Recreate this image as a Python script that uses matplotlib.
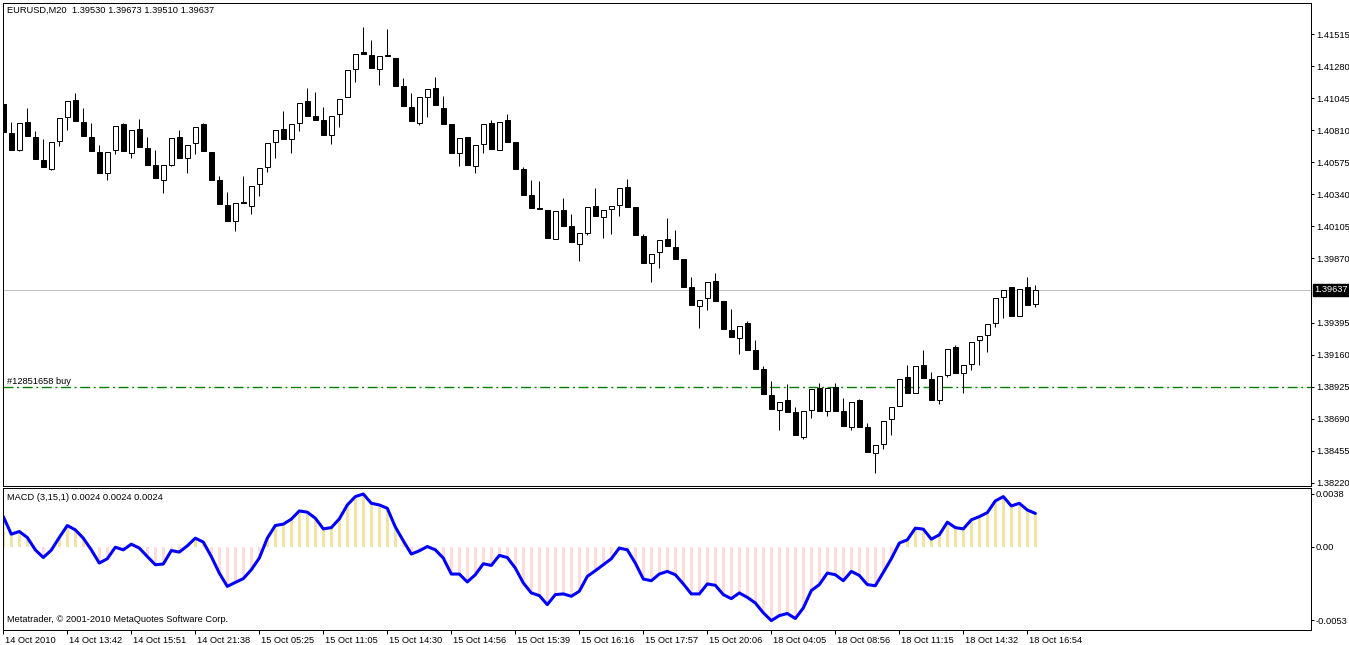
import matplotlib
matplotlib.use("Agg")
import matplotlib.pyplot as plt
import numpy as np
from matplotlib.transforms import ScaledTranslation, blended_transform_factory

plt.rcParams['font.family'] = ['Liberation Sans', 'DejaVu Sans']
plt.rcParams['lines.scale_dashes'] = False

# ---------------- data ----------------
symbol_text = "EURUSD,M20  1.39530 1.39673 1.39510 1.39637"
macd_text = "MACD (3,15,1) 0.0024 0.0024 0.0024"
copyright_text = "Metatrader, \u00a9 2001-2010 MetaQuotes Software Corp."
order_text = "#12851658 buy"
order_price = 1.38925
current_price = 1.39637

opens = [
    1.41001, 1.40788, 1.40664, 1.40869, 1.40759, 1.40590, 1.40524, 1.40730, 1.40906, 1.41031,
    1.40869, 1.40759, 1.40649, 1.40495, 1.40664, 1.40854, 1.40642, 1.40818, 1.40678, 1.40554,
    1.40443, 1.40554, 1.40759, 1.40605, 1.40715, 1.40854, 1.40649, 1.40443, 1.40260, 1.40142,
    1.40282, 1.40253, 1.40414, 1.40539, 1.40722, 1.40818, 1.40744, 1.40862, 1.41023, 1.40913,
    1.40884, 1.40774, 1.40928, 1.41053, 1.41258, 1.41383, 1.41361, 1.41258, 1.41361, 1.41339,
    1.41133, 1.40979, 1.40862, 1.41053, 1.41119, 1.40972, 1.40854, 1.40642, 1.40759, 1.40546,
    1.40708, 1.40862, 1.40664, 1.40884, 1.40722, 1.40524, 1.40333, 1.40238, 1.40223, 1.40010,
    1.40223, 1.40106, 1.39974, 1.40054, 1.40253, 1.40172, 1.40231, 1.40260, 1.40392, 1.40245,
    1.40032, 1.39834, 1.39915, 1.40010, 1.39952, 1.39864, 1.39658, 1.39519, 1.39577, 1.39702,
    1.39555, 1.39342, 1.39284, 1.39394, 1.39196, 1.39056, 1.38865, 1.38755, 1.38829, 1.38741,
    1.38557, 1.38755, 1.38917, 1.38748, 1.38924, 1.38748, 1.38630, 1.38829, 1.38630, 1.38440,
    1.38506, 1.38689, 1.38785, 1.38997, 1.38880, 1.39086, 1.38983, 1.38829, 1.39012, 1.39218,
    1.39027, 1.39093, 1.39269, 1.39306, 1.39394, 1.39585, 1.39658, 1.39445, 1.39658, 1.39530,
]
highs = [
    1.41016, 1.40869, 1.40862, 1.40972, 1.40803, 1.40744, 1.40722, 1.40898, 1.41023, 1.41082,
    1.40972, 1.40862, 1.40700, 1.40649, 1.40840, 1.40862, 1.40810, 1.40891, 1.40759, 1.40664,
    1.40554, 1.40752, 1.40810, 1.40700, 1.40832, 1.40862, 1.40649, 1.40473, 1.40355, 1.40275,
    1.40473, 1.40399, 1.40531, 1.40715, 1.40810, 1.40950, 1.40854, 1.41009, 1.41119, 1.41089,
    1.40979, 1.40913, 1.41038, 1.41251, 1.41368, 1.41566, 1.41471, 1.41354, 1.41552, 1.41339,
    1.41192, 1.41082, 1.41053, 1.41111, 1.41199, 1.41060, 1.40854, 1.40752, 1.40759, 1.40700,
    1.40854, 1.40884, 1.40869, 1.40928, 1.40722, 1.40539, 1.40443, 1.40436, 1.40223, 1.40216,
    1.40311, 1.40194, 1.40054, 1.40245, 1.40385, 1.40223, 1.40253, 1.40385, 1.40451, 1.40245,
    1.40047, 1.39900, 1.40003, 1.40164, 1.40076, 1.39864, 1.39731, 1.39563, 1.39695, 1.39761,
    1.39555, 1.39497, 1.39372, 1.39408, 1.39269, 1.39078, 1.38968, 1.38814, 1.38946, 1.38777,
    1.38748, 1.38909, 1.38953, 1.38917, 1.38953, 1.38843, 1.38814, 1.38836, 1.38660, 1.38498,
    1.38674, 1.38777, 1.38983, 1.39086, 1.39078, 1.39196, 1.39034, 1.39005, 1.39203, 1.39232,
    1.39086, 1.39254, 1.39298, 1.39386, 1.39577, 1.39636, 1.39658, 1.39643, 1.39731, 1.39673,
]
lows = [
    1.40781, 1.40664, 1.40656, 1.40766, 1.40598, 1.40539, 1.40517, 1.40693, 1.40810, 1.40876,
    1.40766, 1.40656, 1.40495, 1.40443, 1.40634, 1.40656, 1.40605, 1.40686, 1.40554, 1.40458,
    1.40348, 1.40546, 1.40605, 1.40495, 1.40634, 1.40656, 1.40443, 1.40267, 1.40142, 1.40069,
    1.40275, 1.40194, 1.40326, 1.40502, 1.40605, 1.40744, 1.40642, 1.40803, 1.40913, 1.40884,
    1.40774, 1.40708, 1.40832, 1.41053, 1.41163, 1.41368, 1.41265, 1.41141, 1.41354, 1.41133,
    1.40987, 1.40876, 1.40847, 1.40906, 1.40994, 1.40854, 1.40642, 1.40546, 1.40554, 1.40495,
    1.40642, 1.40671, 1.40664, 1.40722, 1.40524, 1.40333, 1.40238, 1.40231, 1.40018, 1.40010,
    1.40106, 1.39988, 1.39849, 1.40040, 1.40179, 1.40018, 1.40047, 1.40179, 1.40245, 1.40040,
    1.39834, 1.39695, 1.39797, 1.39959, 1.39864, 1.39658, 1.39526, 1.39357, 1.39489, 1.39555,
    1.39350, 1.39291, 1.39166, 1.39196, 1.39056, 1.38873, 1.38763, 1.38608, 1.38741, 1.38572,
    1.38542, 1.38696, 1.38748, 1.38711, 1.38748, 1.38638, 1.38608, 1.38630, 1.38447, 1.38293,
    1.38469, 1.38572, 1.38785, 1.38880, 1.38880, 1.38990, 1.38829, 1.38799, 1.38997, 1.39027,
    1.38880, 1.39049, 1.39086, 1.39181, 1.39364, 1.39430, 1.39445, 1.39445, 1.39526, 1.39510,
]
closes = [
    1.40796, 1.40664, 1.40862, 1.40766, 1.40598, 1.40539, 1.40722, 1.40898, 1.41023, 1.40876,
    1.40766, 1.40656, 1.40495, 1.40649, 1.40840, 1.40656, 1.40810, 1.40686, 1.40554, 1.40458,
    1.40554, 1.40752, 1.40605, 1.40700, 1.40832, 1.40656, 1.40443, 1.40267, 1.40142, 1.40275,
    1.40275, 1.40399, 1.40531, 1.40715, 1.40810, 1.40744, 1.40854, 1.41009, 1.40913, 1.40884,
    1.40774, 1.40913, 1.41038, 1.41251, 1.41368, 1.41368, 1.41265, 1.41354, 1.41354, 1.41133,
    1.40987, 1.40876, 1.41053, 1.41111, 1.40994, 1.40854, 1.40642, 1.40752, 1.40554, 1.40700,
    1.40854, 1.40671, 1.40869, 1.40722, 1.40524, 1.40333, 1.40238, 1.40231, 1.40018, 1.40216,
    1.40106, 1.39988, 1.40054, 1.40245, 1.40179, 1.40223, 1.40253, 1.40385, 1.40245, 1.40040,
    1.39834, 1.39900, 1.40003, 1.39959, 1.39864, 1.39658, 1.39526, 1.39563, 1.39695, 1.39555,
    1.39350, 1.39291, 1.39372, 1.39196, 1.39056, 1.38873, 1.38763, 1.38814, 1.38741, 1.38572,
    1.38748, 1.38909, 1.38748, 1.38917, 1.38748, 1.38638, 1.38814, 1.38630, 1.38447, 1.38498,
    1.38674, 1.38777, 1.38983, 1.38880, 1.39078, 1.38990, 1.38829, 1.39005, 1.39203, 1.39027,
    1.39086, 1.39254, 1.39298, 1.39386, 1.39577, 1.39636, 1.39445, 1.39643, 1.39526, 1.39637,
]
macd = [
    0.00217, 0.00091, 0.00110, 0.00067, -0.00022, -0.00077, -0.00024, 0.00067, 0.00153, 0.00122,
    0.00062, -0.00022, -0.00117, -0.00086, -0.00003, -0.00022, 0.00019, -0.00009, -0.00070, -0.00129,
    -0.00124, -0.00027, -0.00038, 0.00007, 0.00062, 0.00034, -0.00070, -0.00189, -0.00285, -0.00256,
    -0.00229, -0.00165, -0.00081, 0.00062, 0.00153, 0.00163, 0.00199, 0.00258, 0.00249, 0.00206,
    0.00129, 0.00138, 0.00201, 0.00301, 0.00361, 0.00380, 0.00313, 0.00301, 0.00277, 0.00143,
    0.00043, -0.00052, -0.00029, 0.00002, -0.00022, -0.00081, -0.00196, -0.00196, -0.00253, -0.00201,
    -0.00122, -0.00134, -0.00062, -0.00077, -0.00153, -0.00260, -0.00332, -0.00351, -0.00416, -0.00344,
    -0.00339, -0.00356, -0.00320, -0.00213, -0.00172, -0.00129, -0.00086, -0.00009, -0.00022, -0.00117,
    -0.00232, -0.00244, -0.00196, -0.00177, -0.00201, -0.00267, -0.00339, -0.00339, -0.00267, -0.00277,
    -0.00344, -0.00373, -0.00332, -0.00364, -0.00404, -0.00475, -0.00531, -0.00495, -0.00480, -0.00516,
    -0.00440, -0.00315, -0.00272, -0.00189, -0.00201, -0.00244, -0.00177, -0.00206, -0.00272, -0.00280,
    -0.00184, -0.00086, 0.00027, 0.00050, 0.00134, 0.00127, 0.00055, 0.00086, 0.00177, 0.00138,
    0.00129, 0.00194, 0.00217, 0.00246, 0.00330, 0.00361, 0.00294, 0.00313, 0.00265, 0.00240,
]
price_ticks = [1.41515, 1.41280, 1.41045, 1.40810, 1.40575, 1.40340, 1.40105, 1.39870,
               1.39395, 1.39160, 1.38925, 1.38690, 1.38455, 1.38220]
macd_ticks = [0.0038, 0.0, -0.0053]
macd_tick_labels = ["0.0038", "0.00", "-0.0053"]
time_labels = ["14 Oct 2010", "14 Oct 13:42", "14 Oct 15:51", "14 Oct 21:38", "15 Oct 05:25",
               "15 Oct 11:05", "15 Oct 14:30", "15 Oct 14:56", "15 Oct 15:39", "15 Oct 16:16",
               "15 Oct 17:57", "15 Oct 20:06", "18 Oct 04:05", "18 Oct 08:56", "18 Oct 11:15",
               "18 Oct 14:32", "18 Oct 16:54"]
label_step = 8

# ---------------- figure ----------------
W, H = 1349, 645
fig = plt.figure(figsize=(W / 100, H / 100), dpi=100)
fig.patch.set_facecolor("white")
FS = 6.7
LW = 0.72


def px_axes(l, t, r, b):
    return fig.add_axes([l / W, 1 - b / H, (r - l) / W, (b - t) / H])


ax = px_axes(3, 2.5, 1311, 485.5)
mx = px_axes(3, 488, 1311, 629.5)

o = np.array(opens); h = np.array(highs); lo = np.array(lows); c = np.array(closes)
xs = np.arange(len(c))
xlim = (-0.0375, 163.46)

# candles
ax.vlines(xs, lo, h, color="black", lw=LW, zorder=2)
up = c >= o
bottoms = np.minimum(o, c)
heights = np.abs(c - o)
ax.bar(xs, heights, bottom=bottoms, width=0.6,
       color=np.where(up, "white", "black"), edgecolor="black", linewidth=LW, zorder=3)

ax.set_xlim(*xlim)
ax.set_ylim(1.38201, 1.417463)
ax.set_xticks([])
ax.yaxis.tick_right()
ax.set_yticks(price_ticks)
ax.set_yticklabels([f"{v:.5f}" for v in price_ticks])
ax.tick_params(axis="y", direction="out", length=2.5, width=LW, labelsize=FS, pad=1)
for s in ax.spines.values():
    s.set_linewidth(LW)
    s.set_color("black")

# current price line and label
ax.axhline(current_price, color="#C0C0C0", lw=LW, zorder=1)
bt = blended_transform_factory(ax.transAxes, ax.transData)
ax.text(1.0, current_price, f"{current_price:.5f}",
        transform=bt + ScaledTranslation(3.5 / 100, 0, fig.dpi_scale_trans),
        ha="left", va="center", color="white", fontsize=FS, clip_on=False, zorder=5,
        bbox=dict(boxstyle="square,pad=0.2", fc="black", ec="black"))

# order line
ax.axhline(order_price, color="#008000", lw=1.0, linestyle=(0, (7.2, 2.6, 1.4, 2.6)), zorder=1)

# texts
fig.text(7 / W, 1 - 10 / H, symbol_text, ha="left", va="center", fontsize=FS)
fig.text(7 / W, 1 - 382 / H, order_text, ha="left", va="center", fontsize=FS)
fig.text(7 / W, 1 - 497 / H, macd_text, ha="left", va="center", fontsize=FS)
fig.text(7 / W, 1 - 619 / H, copyright_text, ha="left", va="center", fontsize=FS)

# MACD panel
m = np.array(macd)
mx.bar(xs, m, width=0.34, color=np.where(m >= 0, "#EEE4A6", "#FFDCDC"), zorder=1)
mx.plot(xs, m, color="#0000FF", lw=2.2, zorder=2, solid_joinstyle="round", solid_capstyle="round")
mx.set_xlim(*xlim)
mx.set_ylim(-0.00595, 0.00423)
mx.yaxis.tick_right()
mx.set_yticks(macd_ticks)
mx.set_yticklabels(macd_tick_labels)
mx.tick_params(axis="y", direction="out", length=2.5, width=LW, labelsize=FS, pad=1)
tick_pos = xs[::label_step]
mx.set_xticks(tick_pos)
mx.set_xticklabels(time_labels[:len(tick_pos)])
mx.tick_params(axis="x", direction="out", length=3, width=LW, labelsize=FS, pad=1.5)
off = ScaledTranslation(2 / 100, 0, fig.dpi_scale_trans)
for lbl in mx.get_xticklabels():
    lbl.set_ha("left")
    lbl.set_transform(lbl.get_transform() + off)
for s in mx.spines.values():
    s.set_linewidth(LW)
    s.set_color("black")

fig.savefig("out.png", dpi=100, facecolor="white")
